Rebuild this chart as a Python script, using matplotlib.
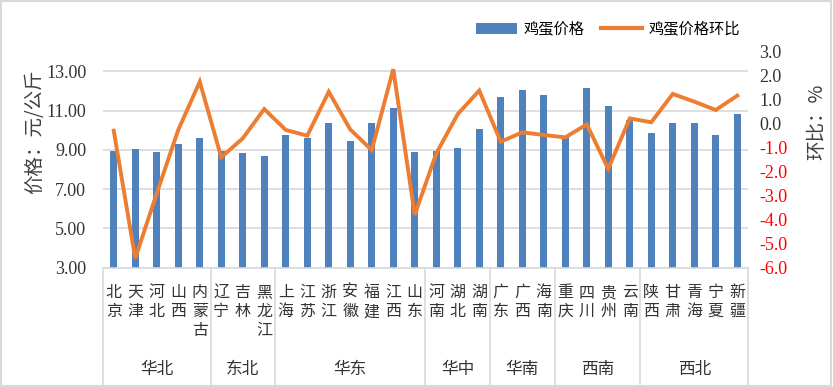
import matplotlib.pyplot as plt
import numpy as np
from matplotlib.lines import Line2D
from matplotlib.patches import Patch, Rectangle

plt.rcParams["font.family"] = ["Noto Sans CJK SC", "DejaVu Sans"]

# Data
provinces = ["北京", "天津", "河北", "山西", "内蒙古",
             "辽宁", "吉林", "黑龙江",
             "上海", "江苏", "浙江", "安徽", "福建", "江西", "山东",
             "河南", "湖北", "湖南",
             "广东", "广西", "海南",
             "重庆", "四川", "贵州", "云南",
             "陕西", "甘肃", "青海", "宁夏", "新疆"]
region_names = ["华北", "东北", "华东", "华中", "华南", "西南", "西北"]
region_sizes = [5, 3, 7, 3, 3, 4, 5]

price = [8.95, 9.02, 8.90, 9.31, 9.63,
         8.92, 8.85, 8.70,
         9.77, 9.62, 10.38, 9.46, 10.38, 11.15, 8.90,
         8.95, 9.12, 10.08,
         11.67, 12.07, 11.81,
         9.68, 12.15, 11.25, 10.54,
         9.88, 10.38, 10.38, 9.77, 10.84]
mom = [-0.29, -5.61, -2.90, -0.26, 1.75,
       -1.40, -0.61, 0.61,
       -0.26, -0.50, 1.33, -0.24, -1.10, 2.27, -3.80,
       -1.24, 0.40, 1.38,
       -0.75, -0.36, -0.47,
       -0.57, -0.03, -1.88, 0.22,
       0.06, 1.24, 0.92, 0.57, 1.17]

blue = "#4F81BD"
orange = "#ED7D31"
grid_c = "#D9D9D9"
num_font = "Liberation Serif"

fig = plt.figure(figsize=(8.33, 3.87), dpi=100)
ax = fig.add_axes([103 / 833, 1 - 267.7 / 387, 645 / 833, 216 / 387])
ax2 = ax.twinx()

x = np.arange(len(provinces))
ax.bar(x, price, width=0.33, color=blue, zorder=2)
ax2.plot(x, mom, color=orange, linewidth=2.8, zorder=3, solid_joinstyle="miter")

ax.set_xlim(-0.5, len(provinces) - 0.5)
ax.set_ylim(3, 14)
ax.set_yticks(np.arange(3, 14, 2))
ax.set_yticklabels([f"{v:.2f}" for v in np.arange(3, 14, 2)],
                   fontfamily=num_font, fontsize=13, color="#333333")
ax.yaxis.grid(True, color=grid_c, linewidth=1.2, zorder=0)
ax.set_axisbelow(True)
ax.tick_params(axis="y", length=0, pad=12)
ax.set_xticks([])

ax2.set_ylim(-6, 3)
ticks2 = np.arange(-6, 4, 1)
ax2.set_yticks(ticks2)
ax2.set_yticklabels([f"{v:.1f}" for v in ticks2], fontfamily=num_font, fontsize=13)
for lab, v in zip(ax2.get_yticklabels(), ticks2):
    lab.set_color("#FF0000" if v < 0 else "#333333")
ax2.tick_params(axis="y", length=0, pad=8)

for a in (ax, ax2):
    for s in ("top", "left", "right"):
        a.spines[s].set_visible(False)
    a.spines["bottom"].set_color(grid_c)
    a.spines["bottom"].set_linewidth(1.2)
ax2.spines["bottom"].set_visible(False)

# category labels (stacked vertical characters)
tr = ax.get_xaxis_transform()
for i, name in enumerate(provinces):
    ax.text(i, -0.075, "\n".join(name), transform=tr, ha="center", va="top",
            fontsize=11.5, linespacing=1.17, color="#333333")

# region groups
bounds = np.concatenate([[0], np.cumsum(region_sizes)]) - 0.5
for b in bounds:
    ax.add_line(Line2D([b, b], [0, -0.54], transform=tr, color=grid_c,
                       linewidth=1.2, clip_on=False))
for name, lo, hi in zip(region_names, bounds[:-1], bounds[1:]):
    ax.text((lo + hi) / 2, -0.47, name, transform=tr, ha="center", va="center",
            fontsize=12, color="#333333")

# axis titles
fig.text(35 / 833, 1 - 132 / 387, "价格：元/公斤", rotation=90, ha="center",
         va="center", fontsize=14, color="#404040")
fig.text(817 / 833, 1 - 122 / 387, "环比：%", rotation=90, ha="center",
         va="center", fontsize=14, color="#404040")

# legend
handles = [Patch(facecolor=blue, edgecolor="none"),
           Line2D([0], [0], color=orange, linewidth=3)]
fig.legend(handles, ["鸡蛋价格", "鸡蛋价格环比"], loc="center left",
           bbox_to_anchor=(462 / 833, 1 - 29 / 387), ncol=2, frameon=False,
           fontsize=11, handlelength=2.7, handleheight=0.75, columnspacing=1.1,
           handletextpad=0.4)

# chart border
fig.patches.append(Rectangle((0.001, 0.002), 0.997, 0.995, transform=fig.transFigure,
                             fill=False, edgecolor=grid_c, linewidth=1.5))

fig.savefig("out.png", dpi=100)
